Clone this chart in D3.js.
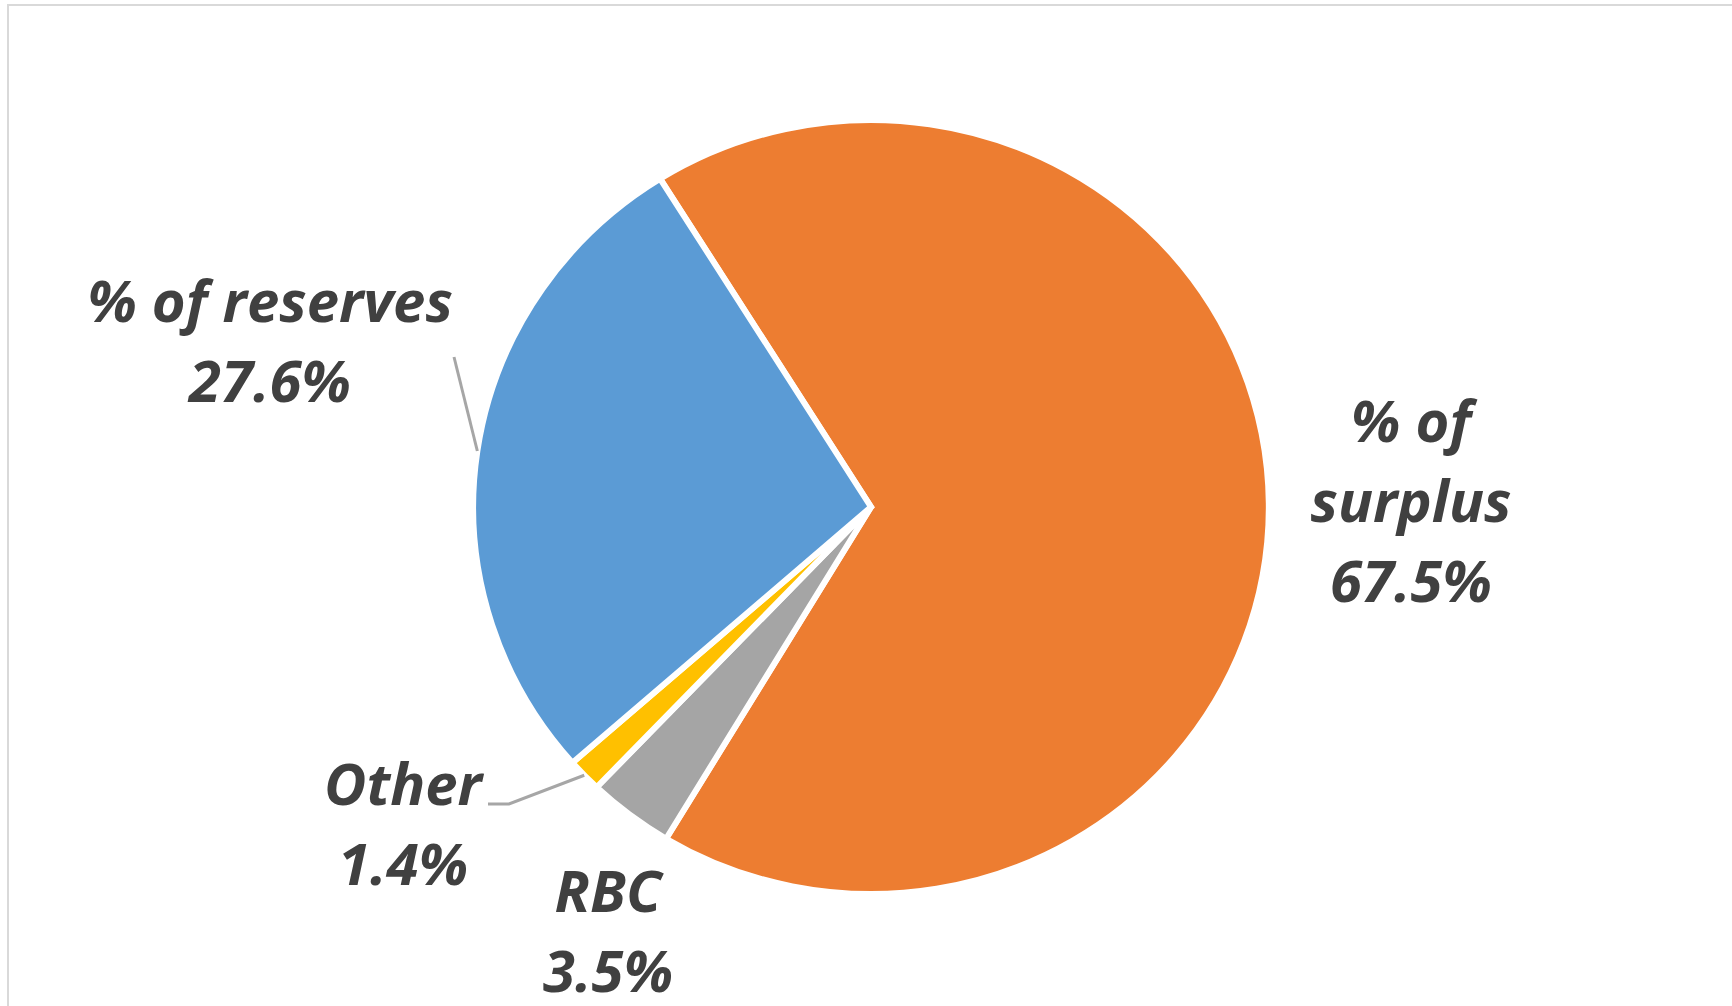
<!DOCTYPE html>
<html>
<head>
<meta charset="utf-8">
<script src="https://cdn.jsdelivr.net/npm/d3@7"></script>
<style>
  body { margin: 0; background: #fff; }
  .lbl { font-family: "Open Sans", Lato, sans-serif; font-weight: 700; font-style: italic; fill: #404040; }
</style>
</head>
<body>
<div class="canva"></div>
<script>
// data
const categories = ["% of surplus", "RBC", "Other", "% of reserves"];
const shares = [67.5, 3.5, 1.4, 27.6];
const colors = ["#ED7D31", "#A5A5A5", "#FFC000", "#5B9BD5"];

// label layout (offsets from the pie centre), wrap = break before last word
const labelLayout = [
  {dx: 540, dy: -65, wrap: true, leader: null},
  {dx: -263, dy: 405, wrap: false, leader: null},
  {dx: -468, dy: 298, wrap: false, leader: [-383, 297], elbow: 21},
  {dx: -601, dy: -185, wrap: false, leader: [-417, -150], elbow: 0}
];

const width = 1732, height = 1006;
const cx = 871, cy = 507, radius = 387, stretch = 1.028;
const lineH = 80;

const svg = d3.select(".canva").append("svg")
    .attr("width", width)
    .attr("height", height);

// chart area border
svg.append("rect")
    .attr("x", 8).attr("y", 5)
    .attr("width", 1800).attr("height", 1100)
    .attr("fill", "none")
    .attr("stroke", "#d9d9d9")
    .attr("stroke-width", 2);

const start = -32 * Math.PI / 180;
const pie = d3.pie().sort(null)
    .startAngle(start)
    .endAngle(start + 2 * Math.PI);
const arcs = pie(shares);

const arc = d3.arc().innerRadius(0).outerRadius(radius);

const pieG = svg.append("g")
    .attr("transform", `translate(${cx}, ${cy}) scale(${stretch}, 1)`);

pieG.selectAll("path")
    .data(arcs)
    .enter()
    .append("path")
    .attr("d", arc)
    .attr("fill", (d, i) => colors[i])
    .attr("stroke", "#fff")
    .attr("stroke-width", 6)
    .attr("vector-effect", "non-scaling-stroke")
    .attr("stroke-linejoin", "miter");

// leader lines
const edgePoint = d => {
  const a = (d.startAngle + d.endAngle) / 2;
  return [cx + Math.sin(a) * radius * stretch, cy - Math.cos(a) * radius];
};

arcs.forEach((d, i) => {
  const L = labelLayout[i];
  if (!L.leader) return;
  const p = edgePoint(d);
  const end = [cx + L.leader[0], cy + L.leader[1]];
  const pts = [p, [end[0] + L.elbow, end[1]], end];
  svg.append("path")
      .attr("d", d3.line()(pts))
      .attr("fill", "none")
      .attr("stroke", "#a6a6a6")
      .attr("stroke-width", 3);
});

// labels
const fmt = d3.format(".1f");
arcs.forEach((d, i) => {
  const L = labelLayout[i];
  const name = categories[i];
  let lines;
  if (L.wrap) {
    const k = name.lastIndexOf(" ");
    lines = [name.slice(0, k), name.slice(k + 1)];
  } else {
    lines = [name];
  }
  lines.push(fmt(shares[i]) + "%");

  const t = svg.append("text")
      .attr("class", "lbl")
      .attr("text-anchor", "middle")
      .attr("font-size", 58)
      .attr("x", cx + L.dx)
      .attr("y", cy + L.dy);
  lines.forEach((s, j) => {
    t.append("tspan")
        .attr("x", cx + L.dx)
        .attr("dy", j === 0 ? 0 : lineH)
        .text(s);
  });
});
</script>
</body>
</html>
